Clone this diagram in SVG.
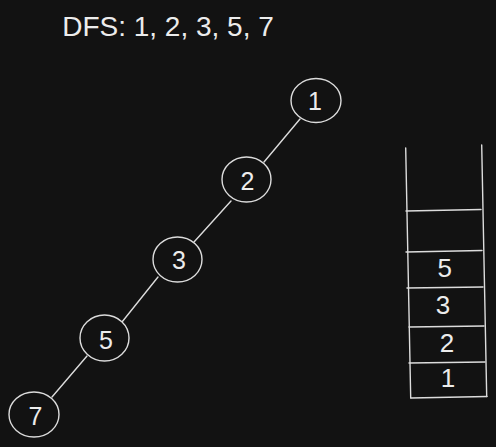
<svg xmlns="http://www.w3.org/2000/svg" width="496" height="447" viewBox="0 0 496 447">
<style>
.ln{stroke:#dcdcdc;stroke-width:1.4;fill:none;stroke-linecap:round}
.nd{stroke:#dcdcdc;stroke-width:1.4;fill:#121212}
.t{font-family:"Liberation Sans",Arial,sans-serif;fill:#ececec;text-anchor:middle}
.d{font-size:25px}
.s{font-size:26px}
</style>
<rect width="496" height="447" fill="#121212"/>
<text class="t" x="168" y="36" style="font-size:28px">DFS: 1, 2, 3, 5, 7</text>
<g id="connectors">
<line class="ln" x1="300" y1="119" x2="264" y2="162"/>
<line class="ln" x1="231" y1="201" x2="194" y2="242"/>
<line class="ln" x1="158" y1="277" x2="122" y2="322"/>
<line class="ln" x1="87" y1="356" x2="52" y2="397"/>
</g>
<g id="node1"><ellipse class="nd" cx="316" cy="100.5" rx="25" ry="22"/><text class="t d" x="315" y="110">1</text></g>
<g id="node2"><ellipse class="nd" cx="246.5" cy="179.5" rx="24.5" ry="22.5"/><text class="t d" x="247.5" y="190">2</text></g>
<g id="node3"><ellipse class="nd" cx="177.5" cy="259.5" rx="24.5" ry="22.5"/><text class="t d" x="179" y="269">3</text></g>
<g id="node5"><ellipse class="nd" cx="104.5" cy="338" rx="24.5" ry="23"/><text class="t d" x="106" y="349">5</text></g>
<g id="node7"><ellipse class="nd" cx="34" cy="414.5" rx="25" ry="22.5"/><text class="t d" x="35.5" y="425">7</text></g>
<g id="stack">
<line class="ln" x1="405.7" y1="148" x2="410.7" y2="398"/>
<line class="ln" x1="481.7" y1="145" x2="486.7" y2="396.5"/>
<line class="ln" x1="406" y1="211" x2="481" y2="209.5"/>
<line class="ln" x1="406" y1="252" x2="482" y2="250.5"/>
<line class="ln" x1="407" y1="288" x2="483" y2="287"/>
<line class="ln" x1="409" y1="327" x2="484" y2="326"/>
<line class="ln" x1="409" y1="363" x2="485" y2="362"/>
<line class="ln" x1="411" y1="398" x2="487" y2="396.5"/>
<text class="t s" x="444.7" y="277">5</text>
<text class="t s" x="443" y="314">3</text>
<text class="t s" x="447" y="351.7">2</text>
<text class="t s" x="448" y="386.7">1</text>
</g>
</svg>
